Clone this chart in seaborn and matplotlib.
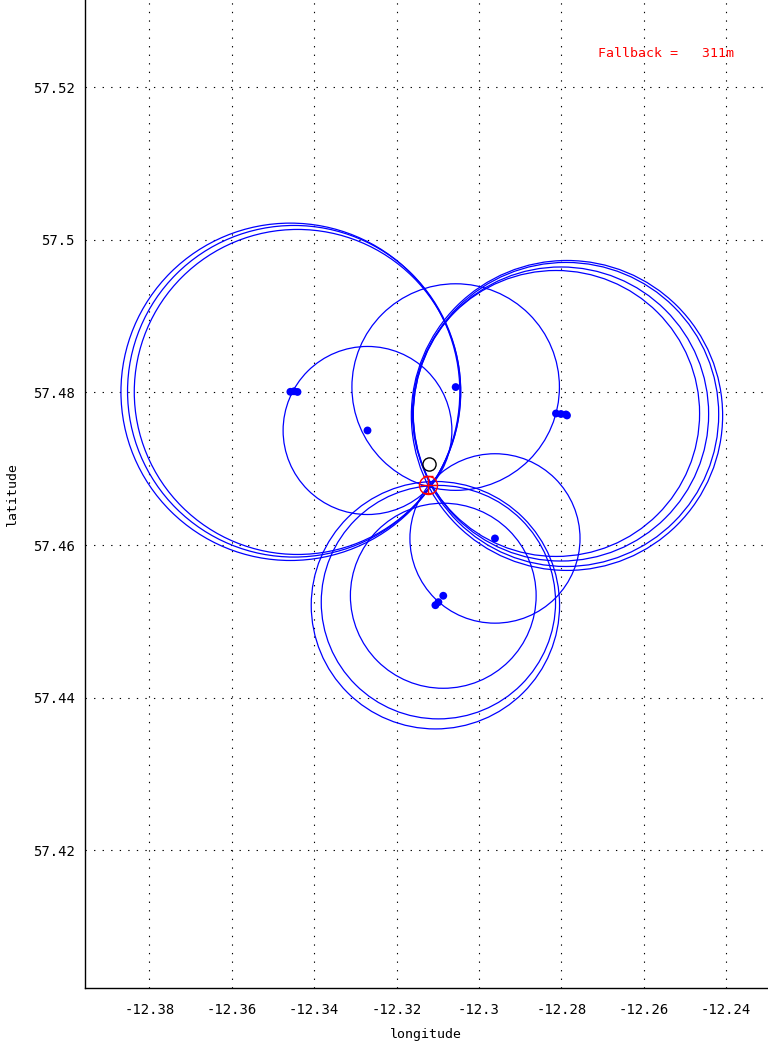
import numpy as np
import pandas as pd
import matplotlib
matplotlib.use("Agg")
import matplotlib.pyplot as plt
from matplotlib.patches import Ellipse
from matplotlib.ticker import FuncFormatter
import seaborn as sns

# ---- data ----
circle_lon = [-12.34578, -12.34488, -12.34405,
              -12.27864, -12.27888, -12.28010, -12.28131,
              -12.31058, -12.30985, -12.30867,
              -12.32706, -12.30566, -12.29612]
circle_lat = [57.48009, 57.48016, 57.48007,
              57.47699, 57.47712, 57.47718, 57.47725,
              57.45212, 57.45252, 57.45336,
              57.47502, 57.48071, 57.46087]
circle_radius_m = [2461, 2419, 2371,
                   2261, 2218, 2145, 2086,
                   1805, 1703, 1350,
                   1226, 1507, 1236]

fix_lon = -12.31231
fix_lat = 57.46790
ref_lon = -12.31214
ref_lat = 57.47066
fallback_m = 311

x_ticks = [-12.38, -12.36, -12.34, -12.32, -12.30, -12.28, -12.26, -12.24]
y_ticks = [57.42, 57.44, 57.46, 57.48, 57.50, 57.52]
x_limits = (-12.39575, -12.22985)
y_limits = (57.40199, 57.53144)

M_PER_DEG = 111320.0

sns.set_theme(style="white")
plt.rcParams["font.family"] = ["DejaVu Sans Mono", "DejaVu Sans"]
plt.rcParams["axes.unicode_minus"] = False

fig = plt.figure(figsize=(7.68, 10.47), dpi=100)
ax = fig.add_axes([84.5 / 768, 1 - 987.7 / 1047, 683.5 / 768, 987.7 / 1047])

df = pd.DataFrame({"lon": circle_lon, "lat": circle_lat, "r": circle_radius_m})

for _, row in df.iterrows():
    h = row.r / M_PER_DEG
    w = row.r / (M_PER_DEG * np.cos(np.radians(row.lat)))
    ax.add_patch(Ellipse((row.lon, row.lat), 2 * w, 2 * h, fill=False,
                         edgecolor="#0000ff", lw=0.9, zorder=3))

sns.scatterplot(data=df, x="lon", y="lat", ax=ax, color="#0000ff", s=32,
                edgecolor="none", zorder=4, legend=False)

# reference position (black open circle)
ax.plot([ref_lon], [ref_lat], marker="o", ms=9.5, mfc="none", mec="black",
        mew=1.0, ls="none", zorder=5)

# fix with error cross (red)
err_y = 8.5 * (y_limits[1] - y_limits[0]) / 987.7
err_x = 8.5 * (x_limits[1] - x_limits[0]) / 683.5
ax.errorbar([fix_lon], [fix_lat], yerr=[err_y], fmt="none", ecolor="red",
            elinewidth=1.0, capsize=3.5, capthick=1.0, zorder=6)
ax.errorbar([fix_lon], [fix_lat], xerr=[err_x], fmt="none", ecolor="red",
            elinewidth=1.0, capsize=0, zorder=6)
ax.plot([fix_lon], [fix_lat], marker="o", ms=13, mfc="none", mec="red",
        mew=1.0, ls="none", zorder=6)

ax.set_xlim(*x_limits)
ax.set_ylim(*y_limits)
ax.set_xticks(x_ticks)
ax.set_yticks(y_ticks)
fmt = FuncFormatter(lambda v, p: ("%g" % round(v, 4)))
ax.xaxis.set_major_formatter(fmt)
ax.yaxis.set_major_formatter(fmt)

ax.grid(True, color="black", lw=0.8, ls=(0, (1.2, 6.5)))
ax.set_axisbelow(True)
for s in ["top", "right"]:
    ax.spines[s].set_visible(False)
for s in ["left", "bottom"]:
    ax.spines[s].set_color("black")
    ax.spines[s].set_linewidth(1.0)

ax.tick_params(axis="x", direction="in", length=6, width=1, color="black",
               labelsize=10, pad=11, labelcolor="black")
ax.tick_params(axis="y", direction="in", length=6, width=1, color="black",
               labelsize=10, pad=7, labelcolor="black")

ax.set_xlabel("longitude", fontsize=9.5, color="black", labelpad=8)
ax.set_ylabel("latitude", fontsize=9.5, color="black", labelpad=10)

ax.text((598 - 84.5) / 683.5, 1 - 53.3 / 987.7, "Fallback =   %dm" % fallback_m,
        transform=ax.transAxes, color="red", fontsize=9.5, ha="left", va="center")

fig.savefig("out.png", dpi=100)
